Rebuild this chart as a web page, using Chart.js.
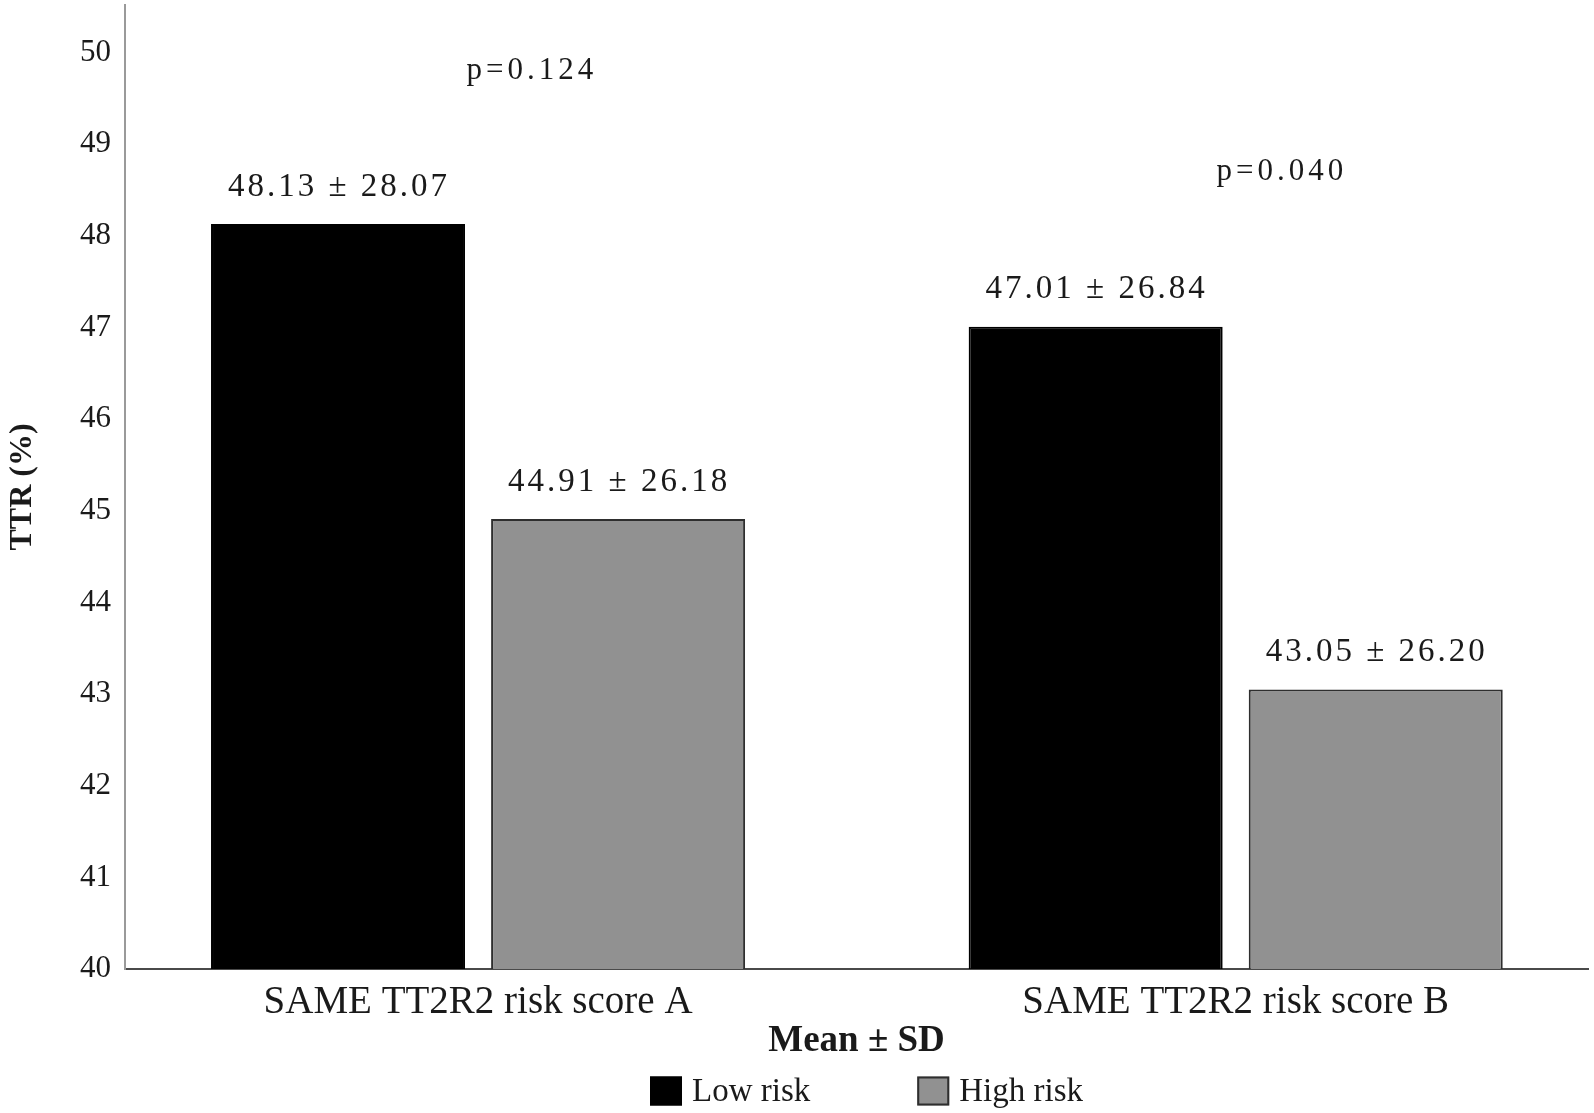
<!DOCTYPE html>
<html>
<head>
<meta charset="utf-8">
<script src="https://cdn.jsdelivr.net/npm/chart.js@4.4.1/dist/chart.umd.min.js"></script>
<style>
  html, body { margin: 0; padding: 0; background: #fff; }
  #wrap { width: 1594px; height: 1113px; position: relative; }
</style>
</head>
<body>
<div id="wrap"><canvas id="myChart"></canvas></div>
<script>
// data
const categories = ['SAME TT2R2 risk score A', 'SAME TT2R2 risk score B'];
const seriesNames = ['Low risk', 'High risk'];
const lowRisk = [48.13, 47.01];
const lowRiskSD = [28.07, 26.84];
const highRisk = [44.91, 43.05];
const highRiskSD = [26.18, 26.20];
const pValues = ['p=0.124', 'p=0.040'];
const pValueX = [0.071, 1.061]; // along the category axis (0 = A, 1 = B)
const pValueY = [49.8, 48.7];
const yTicks = [40, 41, 42, 43, 44, 45, 46, 47, 48, 49, 50];

const serif = '"Liberation Serif", "Times New Roman", serif';
const textColor = '#1a1a1a';

// "48.13 ± 28.07" above every bar + the p values
const valueLabels = {
    id: 'valueLabels',
    afterDatasetsDraw(chart) {
        const ctx = chart.ctx;
        const sds = [lowRiskSD, highRiskSD];
        ctx.save();
        ctx.fillStyle = textColor;
        ctx.textAlign = 'center';
        ctx.textBaseline = 'middle';
        ctx.font = '33px ' + serif;
        ctx.letterSpacing = '3px';
        chart.data.datasets.forEach((ds, di) => {
            chart.getDatasetMeta(di).data.forEach((bar, i) => {
                const txt = ds.data[i].y.toFixed(2) + ' \u00B1 ' + sds[di][i].toFixed(2);
                ctx.fillText(txt, bar.x + 1, bar.y - 37);
            });
        });
        const xs = chart.scales.x, ys = chart.scales.y;
        ctx.font = '31px ' + serif;
        ctx.letterSpacing = '4px';
        pValues.forEach((p, i) => {
            ctx.fillText(p, xs.getPixelForValue(pValueX[i]), ys.getPixelForValue(pValueY[i]));
        });
        ctx.restore();
    }
};

// legend at the very bottom, drawn by hand to get the wide gap
const bottomLegend = {
    id: 'bottomLegend',
    afterDraw(chart) {
        const ctx = chart.ctx;
        const area = chart.chartArea;
        const boxW = 32, boxH = 29, gap = 10, itemGap = 107;
        const y = chart.height - 22;
        ctx.save();
        ctx.font = '33px ' + serif;
        ctx.textBaseline = 'middle';
        ctx.textAlign = 'left';
        const items = chart.data.datasets.map(ds => ({
            label: ds.label, fill: ds.backgroundColor, stroke: ds.borderColor,
            w: boxW + gap + ctx.measureText(ds.label).width
        }));
        const total = items.reduce((s, it) => s + it.w, 0) + itemGap * (items.length - 1);
        let x = (area.left + area.right) / 2 + 10 - total / 2;
        items.forEach(it => {
            ctx.fillStyle = it.fill;
            ctx.fillRect(x, y - boxH / 2, boxW, boxH);
            ctx.strokeStyle = it.stroke;
            ctx.lineWidth = 2;
            ctx.strokeRect(x + 1, y - boxH / 2 + 1, boxW - 2, boxH - 2);
            ctx.fillStyle = textColor;
            ctx.fillText(it.label, x + boxW + gap, y + 1);
            x += it.w + itemGap;
        });
        ctx.restore();
    }
};

const ctx = document.getElementById('myChart').getContext('2d');
const myChart = new Chart(ctx, {
    type: 'bar',
    data: {
        datasets: [{
            label: seriesNames[0],
            data: categories.map((c, i) => ({ x: i, y: lowRisk[i] })),
            backgroundColor: '#000000',
            borderColor: '#000000',
            borderWidth: 2
        }, {
            label: seriesNames[1],
            data: categories.map((c, i) => ({ x: i, y: highRisk[i] })),
            backgroundColor: '#919191',
            borderColor: '#2e2e2e',
            borderWidth: 2
        }]
    },
    options: {
        responsive: true,
        maintainAspectRatio: false,
        animation: false,
        categoryPercentage: 0.7393,
        barPercentage: 0.907,
        layout: { padding: { top: 5, right: 6, left: 0, bottom: 0 } },
        plugins: {
            legend: { display: false },
            tooltip: { enabled: false }
        },
        scales: {
            x: {
                type: 'linear',
                min: -0.466,
                max: 1.465,
                offset: false,
                grid: { display: false, drawTicks: false, offset: false },
                border: { display: true, color: '#4a4a4a', width: 2 },
                afterBuildTicks: scale => { scale.ticks = categories.map((c, i) => ({ value: i })); },
                afterFit: scale => {
                    scale.height = 144;
                    scale.paddingLeft = 0;
                    scale.paddingRight = 0;
                },
                ticks: {
                    padding: 10,
                    maxRotation: 0,
                    autoSkip: false,
                    color: textColor,
                    font: { family: serif, size: 39 },
                    callback: (value, index) => categories[index]
                },
                title: {
                    display: true,
                    text: 'Mean \u00B1 SD',
                    color: textColor,
                    font: { family: serif, size: 37, weight: 'bold' },
                    padding: { top: 0, bottom: 49 }
                }
            },
            y: {
                min: 40,
                max: 50.52,
                grid: { display: false, drawTicks: false },
                border: { display: true, color: '#9a9a9a', width: 2 },
                afterBuildTicks: scale => { scale.ticks = yTicks.map(v => ({ value: v })); },
                afterFit: scale => {
                    scale.width = 125;
                    scale.paddingTop = 0;
                    scale.paddingBottom = 0;
                },
                ticks: {
                    padding: 14,
                    color: textColor,
                    font: { family: serif, size: 31 }
                },
                title: {
                    display: true,
                    text: 'TTR (%)',
                    color: textColor,
                    font: { family: serif, size: 32, weight: 'bold' },
                    padding: { top: 4, bottom: 0 }
                }
            }
        }
    },
    plugins: [valueLabels, bottomLegend]
});
</script>
</body>
</html>
